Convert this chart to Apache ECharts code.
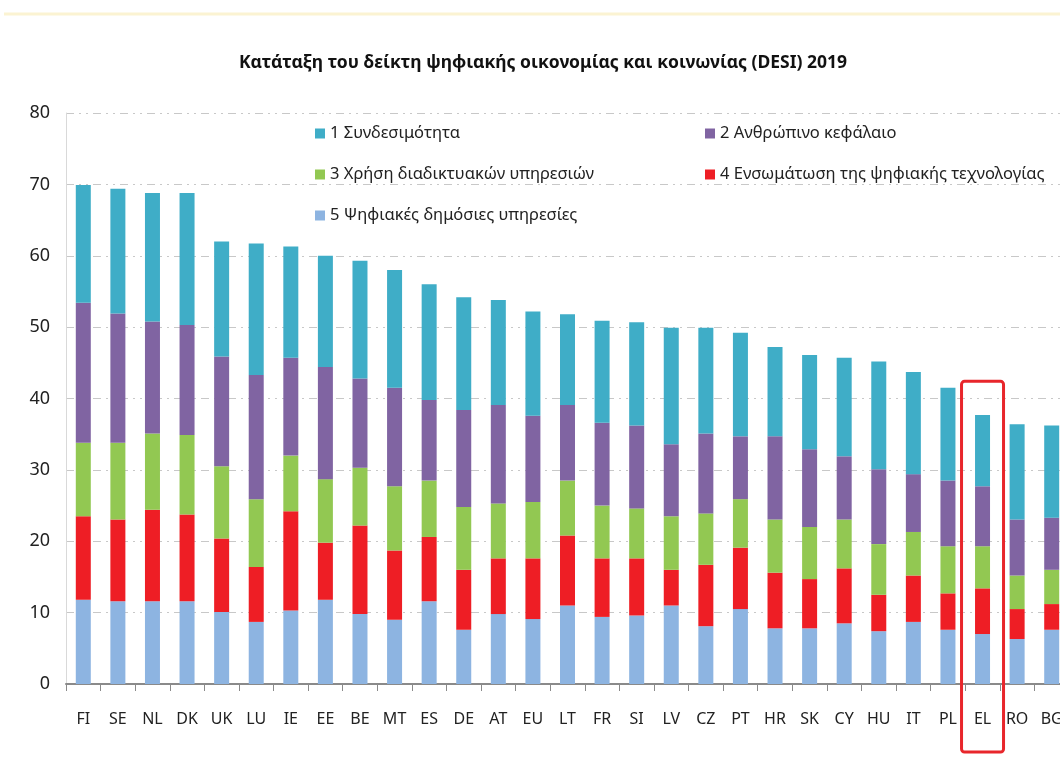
<!DOCTYPE html>
<html>
<head>
<meta charset="utf-8">
<script src="https://cdn.jsdelivr.net/npm/echarts@6/dist/echarts.min.js"></script>
<style>
  html, body { margin: 0; padding: 0; background: #fff; }
  #chart { width: 1060px; height: 760px; }
</style>
</head>
<body>
<div id="chart"></div>
<script>
// χώρες (κατάταξη DESI 2019)
const countries = ['FI', 'SE', 'NL', 'DK', 'UK', 'LU', 'IE', 'EE', 'BE', 'MT', 'ES', 'DE', 'AT', 'EU', 'LT',
  'FR', 'SI', 'LV', 'CZ', 'PT', 'HR', 'SK', 'CY', 'HU', 'IT', 'PL', 'EL', 'RO', 'BG']

// 5 Ψηφιακές δημόσιες υπηρεσίες
const digitalPublic = [11.8, 11.6, 11.6, 11.6, 10.1, 8.7, 10.3, 11.8, 9.8, 9.0, 11.6, 7.6, 9.8, 9.1, 11.0,
  9.4, 9.6, 11.0, 8.1, 10.5, 7.8, 7.8, 8.5, 7.4, 8.7, 7.6, 7.0, 6.3, 7.6]
// 4 Ενσωμάτωση της ψηφιακής τεχνολογίας
const integration = [11.7, 11.45, 12.8, 12.15, 10.3, 7.7, 13.9, 8.0, 12.4, 9.7, 9.0, 8.4, 7.8, 8.5, 9.8,
  8.2, 8.0, 5.0, 8.6, 8.6, 7.8, 6.9, 7.7, 5.1, 6.5, 5.1, 6.4, 4.2, 3.6]
// 3 Χρήση διαδικτυακών υπηρεσιών
const internetUse = [10.3, 10.75, 10.7, 11.15, 10.1, 9.5, 7.8, 8.9, 8.1, 9.0, 7.9, 8.8, 7.7, 7.9, 7.7,
  7.4, 7.0, 7.5, 7.2, 6.8, 7.45, 7.3, 6.85, 7.1, 6.1, 6.6, 5.9, 4.7, 4.8]
// 2 Ανθρώπινο κεφάλαιο
const humanCapital = [19.6, 18.1, 15.7, 15.4, 15.4, 17.4, 13.7, 15.7, 12.5, 13.8, 11.3, 13.6, 13.8, 12.1, 10.6,
  11.6, 11.6, 10.1, 11.2, 8.8, 11.65, 10.9, 8.85, 10.5, 8.1, 9.2, 8.4, 7.85, 7.3]
// 1 Συνδεσιμότητα
const connectivity = [16.5, 17.5, 18.0, 18.5, 16.1, 18.4, 15.6, 15.6, 16.5, 16.5, 16.2, 15.8, 14.7, 14.6, 12.7,
  14.3, 14.5, 16.3, 14.8, 14.5, 12.5, 13.2, 13.8, 15.1, 14.3, 13.0, 10.0, 13.35, 12.9]

const seriesNames = ['1 Συνδεσιμότητα', '2 Ανθρώπινο κεφάλαιο', '3 Χρήση διαδικτυακών υπηρεσιών',
  '4 Ενσωμάτωση της ψηφιακής τεχνολογίας', '5 Ψηφιακές δημόσιες υπηρεσίες']
const yTicks = [0, 10, 20, 30, 40, 50, 60, 70, 80]
const highlighted = 'EL'

const colors = {
  connectivity: '#3fadc7',
  humanCapital: '#8064a2',
  internetUse: '#92c852',
  integration: '#ee1e25',
  digitalPublic: '#8db4e1'
}

const chart = echarts.init(document.getElementById('chart'))

function bar(name, data, color) {
  return {
    name: name,
    type: 'bar',
    stack: 'desi',
    barWidth: 15,
    data: data,
    itemStyle: { color: color }
  }
}

const font = '"Noto Sans", sans-serif'

const option = {
  animation: false,
  textStyle: { fontFamily: font },
  title: {
    text: 'Κατάταξη του δείκτη ψηφιακής οικονομίας και κοινωνίας (DESI) 2019',
    left: 538,
    textAlign: 'center',
    top: 49,
    textStyle: { fontSize: 17.5, fontWeight: 'bold', color: '#111', fontFamily: font }
  },
  legend: [
    {
      orient: 'vertical',
      left: 310,
      top: 120,
      itemWidth: 10,
      itemHeight: 10,
      itemGap: 24,
      icon: 'rect',
      data: [seriesNames[0], seriesNames[2], seriesNames[4]],
      textStyle: { fontSize: 16.5, color: '#222', fontFamily: font }
    },
    {
      orient: 'vertical',
      left: 700,
      top: 120,
      itemWidth: 10,
      itemHeight: 10,
      itemGap: 24,
      icon: 'rect',
      data: [seriesNames[1], seriesNames[3]],
      textStyle: { fontSize: 16.5, color: '#222', fontFamily: font }
    }
  ],
  // το διάγραμμα κόβεται λίγο στα δεξιά, όπως στο πρωτότυπο
  grid: { left: 66, width: 1003, top: 113, height: 571, containLabel: false, outerBoundsMode: 'none' },
  xAxis: {
    type: 'category',
    data: countries,
    boundaryGap: true,
    axisLine: { lineStyle: { color: '#8a8a8a', width: 2 } },
    axisTick: { show: true, length: 7, lineStyle: { color: '#8a8a8a' } },
    axisLabel: { fontSize: 16, color: '#222', margin: 27, interval: 0 }
  },
  yAxis: {
    type: 'value',
    min: yTicks[0],
    max: yTicks[yTicks.length - 1],
    interval: 10,
    axisLine: { show: true, lineStyle: { color: '#d9d9d9' } },
    axisTick: { show: false },
    axisLabel: { fontSize: 18, color: '#222', margin: 16 },
    splitLine: { lineStyle: { color: '#c8c8c8', type: [8, 5, 2, 5, 2, 5] } }
  },
  series: [
    bar(seriesNames[4], digitalPublic, colors.digitalPublic),
    bar(seriesNames[3], integration, colors.integration),
    bar(seriesNames[2], internetUse, colors.internetUse),
    bar(seriesNames[1], humanCapital, colors.humanCapital),
    bar(seriesNames[0], connectivity, colors.connectivity)
  ]
}

chart.setOption(option)

// κόκκινο πλαίσιο γύρω από την Ελλάδα
const topPt = chart.convertToPixel({ xAxisIndex: 0, yAxisIndex: 0 }, [highlighted, 42.4])
const basePt = chart.convertToPixel({ xAxisIndex: 0, yAxisIndex: 0 }, [highlighted, 0])
chart.setOption({
  graphic: [
    {
      type: 'line',
      shape: { x1: 4, y1: 14, x2: 1060, y2: 14 },
      style: { stroke: '#fbf3d2', lineWidth: 3 }
    },
    {
      type: 'rect',
      shape: { x: topPt[0] - 21, y: topPt[1], width: 42, height: basePt[1] + 68 - topPt[1], r: 3 },
      style: { fill: 'none', stroke: '#e8262b', lineWidth: 3 },
      z: 100
    }
  ]
})
</script>
</body>
</html>
